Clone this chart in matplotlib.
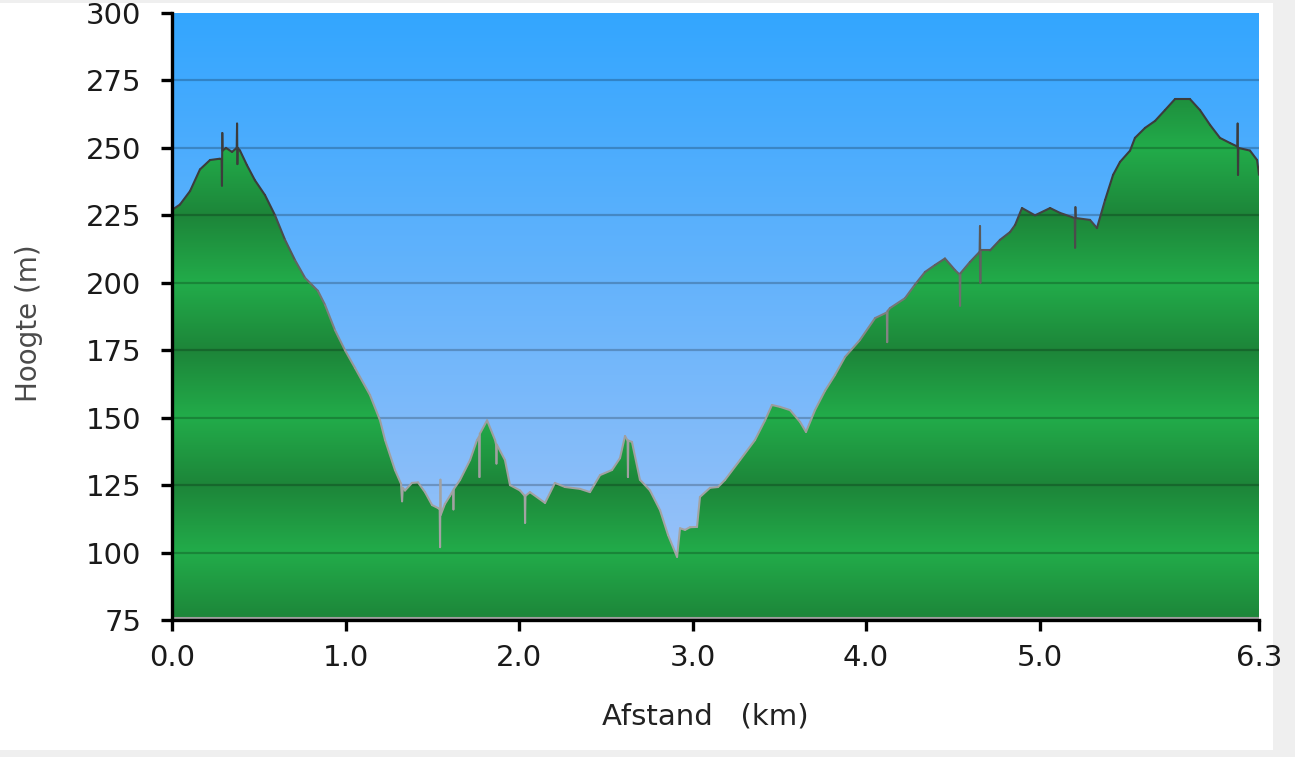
import numpy as np
import matplotlib.pyplot as plt
from matplotlib.patches import Polygon, Rectangle
from matplotlib.collections import LineCollection
from matplotlib.colors import LinearSegmentedColormap, Normalize

# hoogteprofiel: afstand (km) en hoogte (m)
afstand = [0.000, 0.046, 0.104, 0.161, 0.219, 0.277, 0.286, 0.288, 0.290, 0.292,
           0.311, 0.346, 0.373, 0.375, 0.377, 0.379, 0.392, 0.432, 0.478, 0.536,
           0.594, 0.651, 0.709, 0.767, 0.841, 0.882, 0.939, 0.997, 1.055, 1.141,
           1.199, 1.228, 1.285, 1.320, 1.326, 1.330, 1.343, 1.383, 1.418, 1.458,
           1.499, 1.533, 1.543, 1.545, 1.547, 1.549, 1.573, 1.602, 1.620, 1.622,
           1.624, 1.660, 1.718, 1.758, 1.770, 1.772, 1.774, 1.816, 1.862, 1.868,
           1.870, 1.872, 1.919, 1.948, 2.006, 2.033, 2.035, 2.037, 2.063, 2.150,
           2.207, 2.265, 2.352, 2.409, 2.467, 2.536, 2.582, 2.611, 2.626, 2.628,
           2.630, 2.651, 2.697, 2.755, 2.813, 2.859, 2.911, 2.928, 2.957, 2.986,
           3.026, 3.043, 3.101, 3.147, 3.187, 3.274, 3.360, 3.418, 3.458, 3.504,
           3.562, 3.620, 3.654, 3.706, 3.764, 3.821, 3.879, 3.965, 4.052, 4.120,
           4.122, 4.124, 4.138, 4.225, 4.282, 4.340, 4.398, 4.455, 4.513, 4.540,
           4.542, 4.544, 4.599, 4.655, 4.657, 4.659, 4.661, 4.715, 4.772, 4.830,
           4.859, 4.899, 4.974, 5.061, 5.118, 5.203, 5.205, 5.207, 5.209, 5.291,
           5.331, 5.378, 5.424, 5.464, 5.522, 5.550, 5.608, 5.666, 5.723, 5.781,
           5.867, 5.925, 5.983, 6.040, 6.098, 6.140, 6.142, 6.144, 6.146, 6.213,
           6.254, 6.265]
hoogte = [227, 229, 234, 242, 245.5, 246, 246, 236, 255.5, 249,
          250, 248.5, 250, 259, 244, 250, 249, 243.6, 238, 232.5,
          225, 216, 208.4, 201.8, 197, 191.8, 182.5, 175, 168.4, 158.4,
          149, 141.7, 130.6, 125.5, 119, 124, 123, 125.8, 126, 122.4,
          117.6, 116.5, 116, 102, 127, 114, 118, 121, 123, 116,
          123.5, 126.9, 134.3, 141.7, 143, 128, 144, 149, 141.7, 140,
          133, 140, 134.3, 125, 123, 121, 111, 121, 122.4, 118.4,
          125.8, 124.3, 123.6, 122.4, 128.7, 130.6, 135, 143.2, 141.5, 128,
          141.5, 141, 127, 123, 115.7, 106.5, 98.4, 109, 108.4, 109.4,
          109.5, 120.6, 124, 124.3, 126.9, 134.3, 141.7, 149, 154.7, 154,
          152.8, 148.4, 144.7, 152.8, 160, 165.8, 172.5, 178.8, 186.9, 189,
          178, 189.5, 190.6, 194.3, 199.3, 204, 206.6, 209, 204.7, 203,
          191.5, 203.5, 207.7, 211.5, 221, 200, 212, 212, 215.9, 218.8,
          221.4, 227.7, 225, 227.7, 225.9, 224, 213, 228, 224, 223.3,
          220.3, 230.7, 240, 244.8, 249, 253.7, 257.4, 260, 264, 268.1,
          268.1, 264, 258.5, 253.7, 251.8, 250.5, 259, 240, 250, 249,
          245.5, 240]

y_ticks = [75, 100, 125, 150, 175, 200, 225, 250, 275, 300]
x_ticks = [0, 1, 2, 3, 4, 5, afstand[-1]]
x_labels = ['0.0', '1.0', '2.0', '3.0', '4.0', '5.0', '6.3']

ymin, ymax = 75, 300
xmax = afstand[-1]

fig = plt.figure(figsize=(12.95, 7.57), dpi=100, facecolor='#efefef')
fig.patches.append(Rectangle((0, 7/757), 1273/1295, 747/757, transform=fig.transFigure,
                             facecolor='white', edgecolor='none', zorder=-10))
ax = fig.add_axes([172/1295, 137/757, 1087/1295, 607/757])
ax.set_xlim(0, xmax)
ax.set_ylim(ymin, ymax)

# blauwe lucht, verloop van boven naar onder
n = 400
t = np.linspace(0, 1, n)[:, None]
top = np.array([0.20, 0.65, 1.0])
bot = np.array([0.64, 0.77, 0.97])
sky = (bot * (1 - t) + top * t)[:, None, :]
ax.imshow(sky, extent=[0, xmax, ymin, ymax], aspect='auto', origin='lower',
          zorder=0, interpolation='bilinear')

# groene banden (licht op 100/150/200..., donker op 75/125/175...)
hv = np.linspace(ymin, ymax, 900)
w = np.abs(((hv - 75) / 50.0) % 1.0 - 0.5) * 2
w = 1 - w
light = np.array([34, 172, 74]) / 255.0
dark = np.array([29, 133, 57]) / 255.0
grn = (dark * (1 - w[:, None]) + light * w[:, None])[:, None, :]
im = ax.imshow(grn, extent=[0, xmax, ymin, ymax], aspect='auto', origin='lower',
               zorder=1, interpolation='bilinear')
verts = [(afstand[0], ymin)] + list(zip(afstand, hoogte)) + [(afstand[-1], ymin)]
poly = Polygon(verts, closed=True, facecolor='none', edgecolor='none')
ax.add_patch(poly)
im.set_clip_path(poly)

for yv in y_ticks[1:-1]:
    ax.axhline(yv, color='black', alpha=0.22, linewidth=1.6, zorder=2)

# omtrek: donkergrijs hoog, lichtgrijs laag
pts = np.column_stack([afstand, hoogte])
segs = np.stack([pts[:-1], pts[1:]], axis=1)
cmap = LinearSegmentedColormap.from_list('rand', ['#a4a4a4', '#9a9a9a', '#3c3c3c'])
lc = LineCollection(segs, cmap=cmap, norm=Normalize(110, 230), linewidth=1.5,
                    zorder=3, capstyle='round')
lc.set_array((pts[:-1, 1] + pts[1:, 1]) / 2)
ax.add_collection(lc)
ax.axhline(ymin + 0.6, color='#a0a0a0', linewidth=1.5, zorder=3)

for s in ['top', 'right']:
    ax.spines[s].set_visible(False)
for s in ['left', 'bottom']:
    ax.spines[s].set_linewidth(2.4)
    ax.spines[s].set_color('black')
    ax.spines[s].set_zorder(5)

ax.set_yticks(y_ticks)
ax.set_yticklabels([str(v) for v in y_ticks])
ax.set_xticks(x_ticks)
ax.set_xticklabels(x_labels)
ax.tick_params(axis='both', direction='out', length=8, width=2.4, color='black',
               labelsize=21, labelcolor='#1a1a1a')
ax.tick_params(axis='y', pad=14)
ax.tick_params(axis='x', pad=9)
ax.grid(False)

fig.text(29/1295, 1 - 323/757, 'Hoogte (m)', rotation=90, ha='center', va='center',
         fontsize=20, color='#4a4a4a')
fig.text(705/1295, 1 - 716/757, 'Afstand   (km)', ha='center', va='center',
         fontsize=21, color='#222222')

fig.savefig('out.png', dpi=100, facecolor=fig.get_facecolor())
